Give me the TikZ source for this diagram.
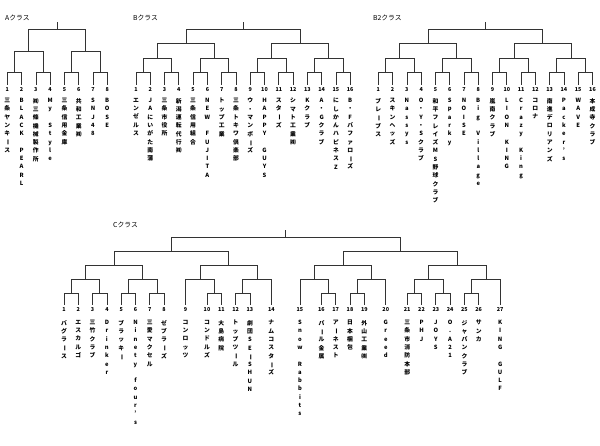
\documentclass[tikz,border=0pt]{standalone}
\usepackage{fontspec}
\setmainfont{Noto Sans CJK JP}
\usepackage{graphicx}
\usetikzlibrary{calc}

% stack a name one character per line; "_" is an empty line
\ExplSyntaxOn
\NewDocumentCommand\tate{m}{
  \vtop{
    \baselineskip=8.3pt \lineskiplimit=-\maxdimen \lineskip=0pt
    \exp_args:No \str_map_inline:nn {#1}{
      \str_if_eq:nnTF{##1}{_}{\hbox{}}{
        \str_if_eq:nnTF{##1}{ー}
          {\hbox to 1em{\hss\rotatebox[origin=c]{-90}{ー}\hss}}
          {\hbox to 1em{\hss##1\hss}}}
    }}}
\ExplSyntaxOff

\tikzset{num/.style={anchor=north,inner sep=2pt,font=\fontsize{5.4}{5.4}\selectfont\bfseries},
  team/.style={anchor=north,inner sep=0pt,font=\fontsize{5.8}{5.8}\selectfont\bfseries},
  title/.style={anchor=west,inner sep=0pt,font=\fontsize{6.8}{6.8}\selectfont},
  wire/.style={line width=.7pt,draw=black!80}}

\begin{document}
\begin{tikzpicture}[x=1pt,y=-1pt]
\useasboundingbox (0,0) rectangle (600,446);

% Class titles.
\node[title] (tA) at (5,17.5) {Aクラス};
\node[title] (tB) at (133,17.5) {Bクラス};
\node[title] (tBB) at (373,17.5) {B2クラス};
\node[title] (tC) at (113,225) {Cクラス};

% A class.
\foreach \i/\nm in {1/三条ヤンキース,2/BLACK_PEARL,3/㈱三條機械製作所,4/My_Style,
  5/三条信用金庫,6/共和工業㈱,7/SNJ48,8/BOSE}{
  \node[num] (A\i) at ({7.3+14.28*(\i-1)},85) {\i};
  \node[team] (A\i-name) at ({7.3+14.28*(\i-1)},98) {\tate{\nm}};
}

% B class.
\foreach \i/\nm in {1/エンゼルス,2/JAにいがた南蒲,3/三条市役所,4/新潟運転代行㈱,
  5/三条信用組合,6/NEW_FUJITA,7/トップ工業,8/三条トキワ倶楽部,
  9/ウ・マンボーズ,10/HAPPY_GUYS,11/スターズ,12/シマト工業㈱,
  13/Kクラブ,14/A・Gクラブ,15/にしかんハピネスZ,16/B・Fバファローズ}{
  \node[num] (B\i) at ({136+14.28*(\i-1)},85) {\i};
  \node[team] (B\i-name) at ({136+14.28*(\i-1)},98) {\tate{\nm}};
}

% B2 class.
\foreach \i/\nm in {1/ブレーブス,2/スキンヘッズ,3/Nassys,4/O・Y・Sクラブ,
  5/和平フレイズMS野球クラブ,6/Sparky,7/NOISE,8/Big_Village,
  9/嵐南クラブ,10/LION_KING,11/Crazy_King,12/コロナ,
  13/南進デロリアンズ,14/Packer's,15/WAVE,16/本成寺クラブ}{
  \node[num] (BB\i) at ({378.3+14.28*(\i-1)},85) {\i};
  \node[team] (BB\i-name) at ({378.3+14.28*(\i-1)},98) {\tate{\nm}};
}

% Knockout brackets of the three upper classes.
\foreach \cls/\xo/\m/\n in {A/7.3/3/8,B/136/4/16,BB/378.3/4/16}{
  \foreach \i in {1,...,\n}
    \coordinate (\cls-0-\i) at (\cls\i.north);
  \foreach \lv in {1,...,\m}{
    \pgfmathsetmacro\yy{72.5-(\lv-1)*43.2/(\m-1)}
    \pgfmathtruncatemacro\sz{2^\lv}
    \pgfmathtruncatemacro\cnt{\n/\sz}
    \pgfmathtruncatemacro\pl{\lv-1}
    \foreach \jj in {1,...,\cnt}{
      \pgfmathtruncatemacro\ia{2*\jj-1}
      \pgfmathtruncatemacro\ib{2*\jj}
      \coordinate (\cls-\lv-\jj) at ({\xo+14.28*((\jj-1)*\sz+(\sz-1)/2)},\yy);
      \draw[wire] (\cls-\pl-\ia) |- (\cls-\lv-\jj) -| (\cls-\pl-\ib);
    }
  }
  \coordinate (\cls-stem) at ($(\cls-\m-1)+(0,-7)$);
  \draw[wire] (\cls-\m-1) -- (\cls-stem);
}

% C class: 27 teams, slot on a half-step grid.
\foreach \i/\h/\nm in {1/0/バグラース,2/2/エスカルゴ,3/4/三竹クラブ,4/6/Drinker,
  5/8/ブラッキー,6/10/Ninety_four's,7/12/三愛マクセル,8/14/ゼブラーズ,
  9/17/コンロッツ,10/20/コンドルズ,11/22/大島病院,12/24/トップツール,
  13/26/劇団SEーSHUN,14/29/ナムコスターズ,15/33/Snow_Rabbits,16/36/パール金属,
  17/38/アーネスト,18/40/日本梱包,19/42/外山工業㈱,20/45/Greed,
  21/48/三条市消防本部,22/50/PHJ,23/52/JOYS,24/54/O.A21,
  25/56/ジャパンクラブ,26/58/サンカ,27/61/KING_GULF}{
  \node[num] (C\i) at ({64+7.15*\h},305) {\i};
  \node[team] (C\i-name) at ({64+7.15*\h},320) {\tate{\nm}};
  \coordinate (C-\i) at (C\i.north);
}

% C class rounds.
\foreach \nd/\h/\yy in {p12/1/293.5,p34/5/293.5,p56/9/293.5,p78/13/293.5,
  p1011/21/293.5,p1213/25/293.5,p1617/37/293.5,p1819/41/293.5,
  p2122/49/293.5,p2324/53/293.5,p2526/57/293.5,
  q1/3/279.5,q2/11/279.5,q3/19/279.5,q4/27/279.5,
  q5/35/279.5,q6/43/279.5,q7/51/279.5,q8/59/279.5,
  r1/7/265.5,r2/23/265.5,r3/39/265.5,r4/55/265.5,
  s1/15/251.5,s2/47/251.5,root/31/237.5}
  \coordinate (C-\nd) at ({64+7.15*\h},\yy);
\foreach \nd/\ia/\ib in {p12/1/2,p34/3/4,p56/5/6,p78/7/8,p1011/10/11,
  p1213/12/13,p1617/16/17,p1819/18/19,p2122/21/22,p2324/23/24,p2526/25/26,
  q1/p12/p34,q2/p56/p78,q3/9/p1011,q4/p1213/14,
  q5/15/p1617,q6/p1819/20,q7/p2122/p2324,q8/p2526/27,
  r1/q1/q2,r2/q3/q4,r3/q5/q6,r4/q7/q8,s1/r1/r2,s2/r3/r4,root/s1/s2}
  \draw[wire] (C-\ia) |- (C-\nd) -| (C-\ib);
\coordinate (C-stem) at ($(C-root)+(0,-7.5)$);
\draw[wire] (C-root) -- (C-stem);
\end{tikzpicture}
\end{document}
